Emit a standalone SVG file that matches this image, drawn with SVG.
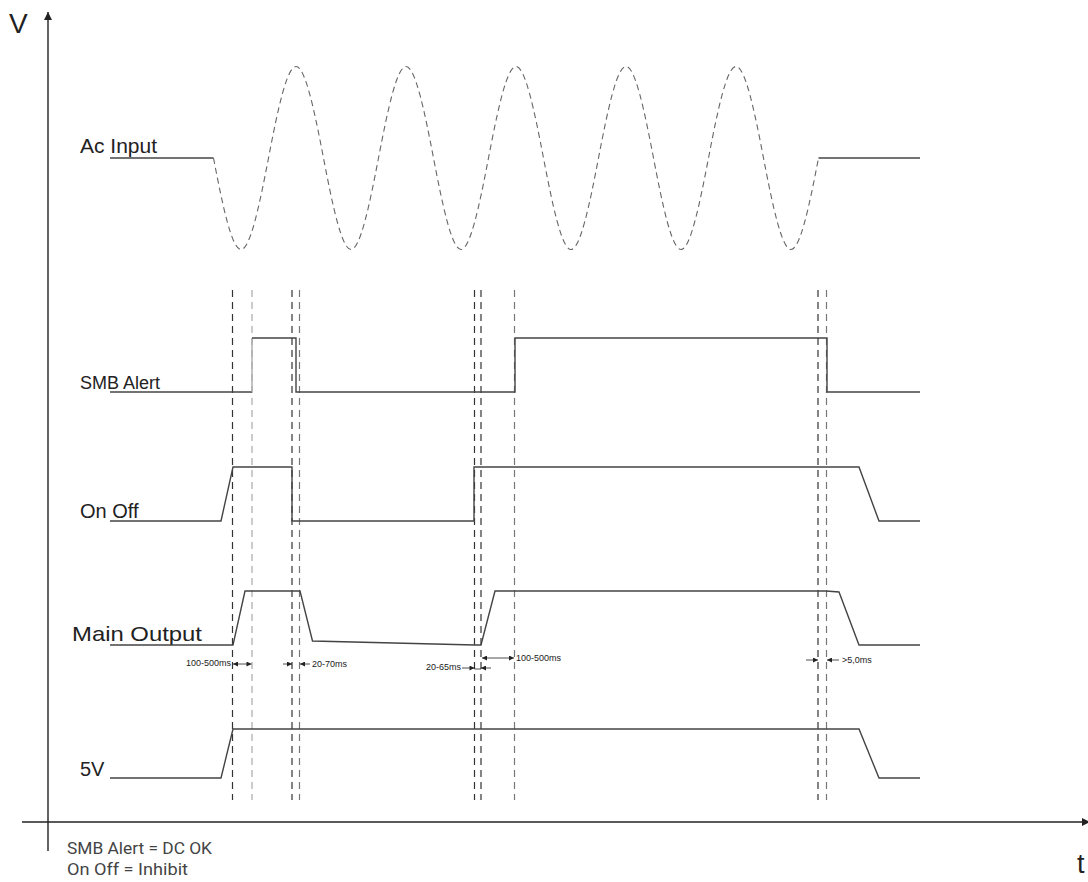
<svg xmlns="http://www.w3.org/2000/svg" width="1088" height="882" viewBox="0 0 1088 882">
<style>
.lbl{font-family:"Liberation Sans",Arial,sans-serif;fill:#222}
.dim{font-family:"Liberation Sans",Arial,sans-serif;font-size:9px;fill:#222}
.note{font-family:Roboto,"Liberation Sans",sans-serif;font-size:16px;fill:#444}
.sig{fill:none;stroke:#444;stroke-width:1.4;stroke-linejoin:miter}
.vd{fill:none;stroke:#333;stroke-width:1.2;stroke-dasharray:7 5}
.vdl{fill:none;stroke:#aaa;stroke-width:1.2;stroke-dasharray:7 5}
.vdm{fill:none;stroke:#777;stroke-width:1.2;stroke-dasharray:7 5}
.wave{fill:none;stroke:#666;stroke-width:1.1;stroke-dasharray:6 4}
.axis{fill:none;stroke:#222;stroke-width:1.4}
.dl{fill:none;stroke:#222;stroke-width:0.8}
</style>
<defs>
<marker id="ah" viewBox="0 0 10 10" refX="10" refY="5" markerWidth="6" markerHeight="5" orient="auto-start-reverse" markerUnits="userSpaceOnUse">
<path d="M0,0 L10,5 L0,10 z" fill="#222"/>
</marker>
<marker id="axh" viewBox="0 0 10 10" refX="10" refY="5" markerWidth="12" markerHeight="8" orient="auto" markerUnits="userSpaceOnUse">
<path d="M0,0 L10,5 L0,10 z" fill="#222"/>
</marker>
</defs>
<rect width="1088" height="882" fill="#fff"/>

<g id="axes">
<line class="axis" x1="48" y1="851" x2="48" y2="12" marker-end="url(#axh)"/>
<line class="axis" x1="22" y1="822" x2="1090" y2="822" marker-end="url(#axh)"/>
<text class="lbl" x="9" y="33" font-size="28">V</text>
<text class="lbl" x="1077" y="873" font-size="27">t</text>
</g>

<g id="guides">
<line class="vd" x1="232.5" y1="290" x2="232.5" y2="800"/>
<line class="vdl" x1="252" y1="290" x2="252" y2="800"/>
<line class="vd" x1="292" y1="290" x2="292" y2="800"/>
<line class="vdm" x1="299.5" y1="290" x2="299.5" y2="800"/>
<line class="vd" x1="474.5" y1="290" x2="474.5" y2="800"/>
<line class="vd" x1="481" y1="290" x2="481" y2="800"/>
<line class="vdm" x1="514.5" y1="290" x2="514.5" y2="800"/>
<line class="vd" x1="818" y1="290" x2="818" y2="800"/>
<line class="vdm" x1="826.5" y1="290" x2="826.5" y2="800"/>
</g>

<g id="ac-input">
<text class="lbl" x="80" y="153" font-size="21">Ac Input</text>
<path class="sig" d="M110,158 H213.5"/>
<path class="sig" d="M818.5,158 H920"/>
<path class="wave" d="M213.5,158
c9.17,47.91 18.33,91.5 27.5,91.5 c9.17,0 18.33,-43.59 27.5,-91.5 c9.17,-47.91 18.33,-91.5 27.5,-91.5 c9.17,0 18.33,43.59 27.5,91.5
c9.17,47.91 18.33,91.5 27.5,91.5 c9.17,0 18.33,-43.59 27.5,-91.5 c9.17,-47.91 18.33,-91.5 27.5,-91.5 c9.17,0 18.33,43.59 27.5,91.5
c9.17,47.91 18.33,91.5 27.5,91.5 c9.17,0 18.33,-43.59 27.5,-91.5 c9.17,-47.91 18.33,-91.5 27.5,-91.5 c9.17,0 18.33,43.59 27.5,91.5
c9.17,47.91 18.33,91.5 27.5,91.5 c9.17,0 18.33,-43.59 27.5,-91.5 c9.17,-47.91 18.33,-91.5 27.5,-91.5 c9.17,0 18.33,43.59 27.5,91.5
c9.17,47.91 18.33,91.5 27.5,91.5 c9.17,0 18.33,-43.59 27.5,-91.5 c9.17,-47.91 18.33,-91.5 27.5,-91.5 c9.17,0 18.33,43.59 27.5,91.5
c9.17,47.91 18.33,91.5 27.5,91.5 c9.17,0 18.33,-43.59 27.5,-91.5"/>
</g>

<g id="smb-alert">
<text class="lbl" x="80" y="389" font-size="18">SMB Alert</text>
<path class="sig" d="M110,392 H252"/>
<path class="sig" style="stroke:#aaa" d="M252,392 V338"/>
<path class="sig" d="M252,338 H296 V392 H515 V338 H827 V392 H920"/>
</g>

<g id="on-off">
<text class="lbl" x="80" y="518" font-size="20">On Off</text>
<path class="sig" d="M110,521 H221 L233,467 H292 V521 H474 V467 H859 L879,521 H920"/>
</g>

<g id="main-output">
<text class="lbl" x="72" y="641" font-size="21" textLength="130" lengthAdjust="spacingAndGlyphs">Main Output</text>
<path class="sig" d="M110,645 H233 L245,591 H300 L312.5,641 L475,645 H481 L495,591 H826 L839,592 L859,645 H920"/>
</g>

<g id="v5">
<text class="lbl" x="80" y="776" font-size="20">5V</text>
<path class="sig" d="M110,778 H221 L233,729 H859 L879,778 H920"/>
</g>

<g id="dimensions">
<text class="dim" x="231" y="666" text-anchor="end">100-500ms</text>
<line class="dl" x1="233" y1="664" x2="251.5" y2="664" marker-start="url(#ah)" marker-end="url(#ah)"/>
<line class="dl" x1="283" y1="664" x2="292" y2="664" marker-end="url(#ah)"/>
<line class="dl" x1="310" y1="664" x2="300" y2="664" marker-end="url(#ah)"/>
<text class="dim" x="312" y="667">20-70ms</text>
<text class="dim" x="461" y="670" text-anchor="end">20-65ms</text>
<line class="dl" x1="462" y1="668" x2="474.5" y2="668" marker-end="url(#ah)"/>
<line class="dl" x1="474.5" y1="669" x2="481" y2="669"/>
<line class="dl" x1="491" y1="668" x2="481" y2="668" marker-end="url(#ah)"/>
<line class="dl" x1="482" y1="658" x2="514" y2="658" marker-start="url(#ah)" marker-end="url(#ah)"/>
<text class="dim" x="516" y="661">100-500ms</text>
<line class="dl" x1="806" y1="660" x2="818" y2="660" marker-end="url(#ah)"/>
<line class="dl" x1="839" y1="660" x2="827" y2="660" marker-end="url(#ah)"/>
<text class="dim" x="842" y="663">&gt;5,0ms</text>
</g>

<g id="notes">
<text class="note" x="67" y="854" textLength="145" lengthAdjust="spacingAndGlyphs">SMB Alert = DC OK</text>
<text class="note" x="67" y="875" textLength="121" lengthAdjust="spacingAndGlyphs">On Off = Inhibit</text>
</g>
</svg>
